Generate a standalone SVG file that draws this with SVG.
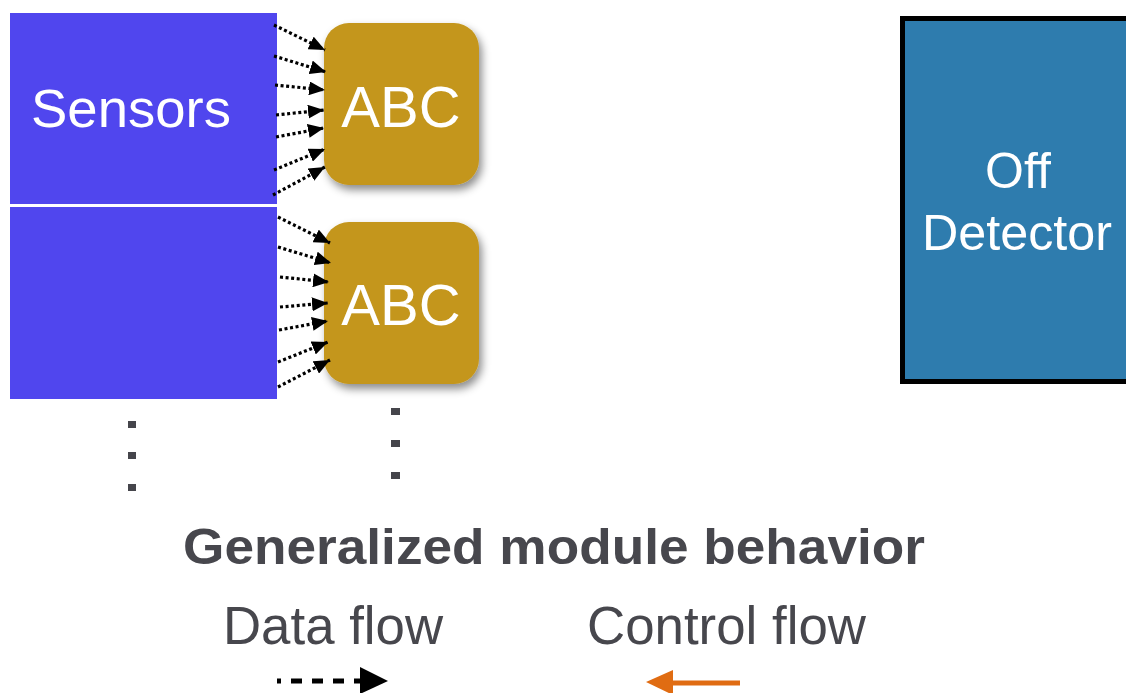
<svg xmlns="http://www.w3.org/2000/svg" width="1126" height="693" viewBox="0 0 1126 693">
  <style>
    .lbl { font-family: "Liberation Sans", Arial, sans-serif; fill: #ffffff; }
    .sensor { fill: #5046EE; }
    .abc { fill: #C4961C; filter: url(#shadow); }
    .dot { fill: #45454B; }
    .data { stroke: #000; stroke-width: 3.2; stroke-dasharray: 3 2.6; fill: none; marker-end: url(#tri); }
    .dark { font-family: "Liberation Sans", Arial, sans-serif; fill: #47474D; }
  </style>
  <defs>
    <filter id="shadow" x="-20%" y="-20%" width="150%" height="150%">
      <feDropShadow dx="3" dy="5" stdDeviation="4" flood-color="#000" flood-opacity="0.45"/>
    </filter>
    <marker id="tri" viewBox="0 0 16 14" refX="16" refY="7" markerWidth="16" markerHeight="14" markerUnits="userSpaceOnUse" orient="auto">
      <path d="M0,0 L16,7 L0,14 z" fill="#000"/>
    </marker>
  </defs>
  <rect width="1126" height="693" fill="#ffffff"/>

  <g id="sensors">
    <rect class="sensor" x="10" y="13" width="267" height="191"/>
    <text class="lbl" x="31" y="127" font-size="53" textLength="200" lengthAdjust="spacingAndGlyphs">Sensors</text>
  </g>
  <g id="sensors2">
    <rect class="sensor" x="10" y="207" width="267" height="192"/>
  </g>

  <g id="abc1">
    <rect class="abc" x="324" y="23" width="155" height="162" rx="25" ry="25"/>
    <text class="lbl" x="401" y="127" font-size="58" text-anchor="middle">ABC</text>
  </g>
  <g id="abc2">
    <rect class="abc" x="324" y="222" width="155" height="162" rx="25" ry="25"/>
    <text class="lbl" x="401" y="325" font-size="58" text-anchor="middle">ABC</text>
  </g>

  <g id="offdetector">
    <rect x="902.5" y="18.5" width="240" height="363" fill="#2E7CAE" stroke="#000" stroke-width="5"/>
    <text class="lbl" x="1018" y="188" font-size="50" text-anchor="middle">Off</text>
    <text class="lbl" x="1017" y="250" font-size="50" text-anchor="middle" textLength="190" lengthAdjust="spacingAndGlyphs">Detector</text>
  </g>

  <g id="ellipsis-left">
    <rect class="dot" x="128" y="421" width="8" height="7"/>
    <rect class="dot" x="128" y="452" width="8" height="7"/>
    <rect class="dot" x="128" y="484" width="8" height="7"/>
  </g>
  <g id="ellipsis-right">
    <rect class="dot" x="391" y="408" width="9" height="7"/>
    <rect class="dot" x="391" y="440" width="9" height="7"/>
    <rect class="dot" x="391" y="472" width="9" height="7"/>
  </g>

  <g id="connectors">
    <line class="data" x1="274" y1="25" x2="325" y2="50"/>
    <line class="data" x1="274" y1="56" x2="326" y2="72"/>
    <line class="data" x1="275" y1="85" x2="325" y2="90"/>
    <line class="data" x1="276" y1="115" x2="324" y2="110"/>
    <line class="data" x1="276" y1="137" x2="324" y2="128"/>
    <line class="data" x1="274" y1="170" x2="325" y2="149"/>
    <line class="data" x1="273" y1="195" x2="325" y2="167"/>

    <line class="data" x1="278" y1="217" x2="330" y2="243"/>
    <line class="data" x1="278" y1="247" x2="331" y2="263"/>
    <line class="data" x1="280" y1="277" x2="329" y2="282"/>
    <line class="data" x1="280" y1="307" x2="328" y2="303"/>
    <line class="data" x1="279" y1="330" x2="328" y2="321"/>
    <line class="data" x1="278" y1="362" x2="328" y2="342"/>
    <line class="data" x1="278" y1="387" x2="330" y2="360"/>
  </g>

  <g id="title">
    <text class="dark" x="554" y="564" font-size="50" font-weight="bold" text-anchor="middle" textLength="742" lengthAdjust="spacingAndGlyphs">Generalized module behavior</text>
  </g>

  <g id="legend-data">
    <text class="dark" x="223" y="644" font-size="53" textLength="220" lengthAdjust="spacingAndGlyphs">Data flow</text>
    <line x1="277" y1="681" x2="362" y2="681" stroke="#000" stroke-width="5" stroke-dasharray="11 10" stroke-dashoffset="7"/>
    <polygon points="360,667 388,681 360,694" fill="#000"/>
  </g>
  <g id="legend-control">
    <text class="dark" x="587" y="644" font-size="53" textLength="279" lengthAdjust="spacingAndGlyphs">Control flow</text>
    <line x1="670" y1="683" x2="740" y2="683" stroke="#E06C12" stroke-width="5"/>
    <polygon points="646,682 673,670 673,695" fill="#E06C12"/>
  </g>
</svg>
